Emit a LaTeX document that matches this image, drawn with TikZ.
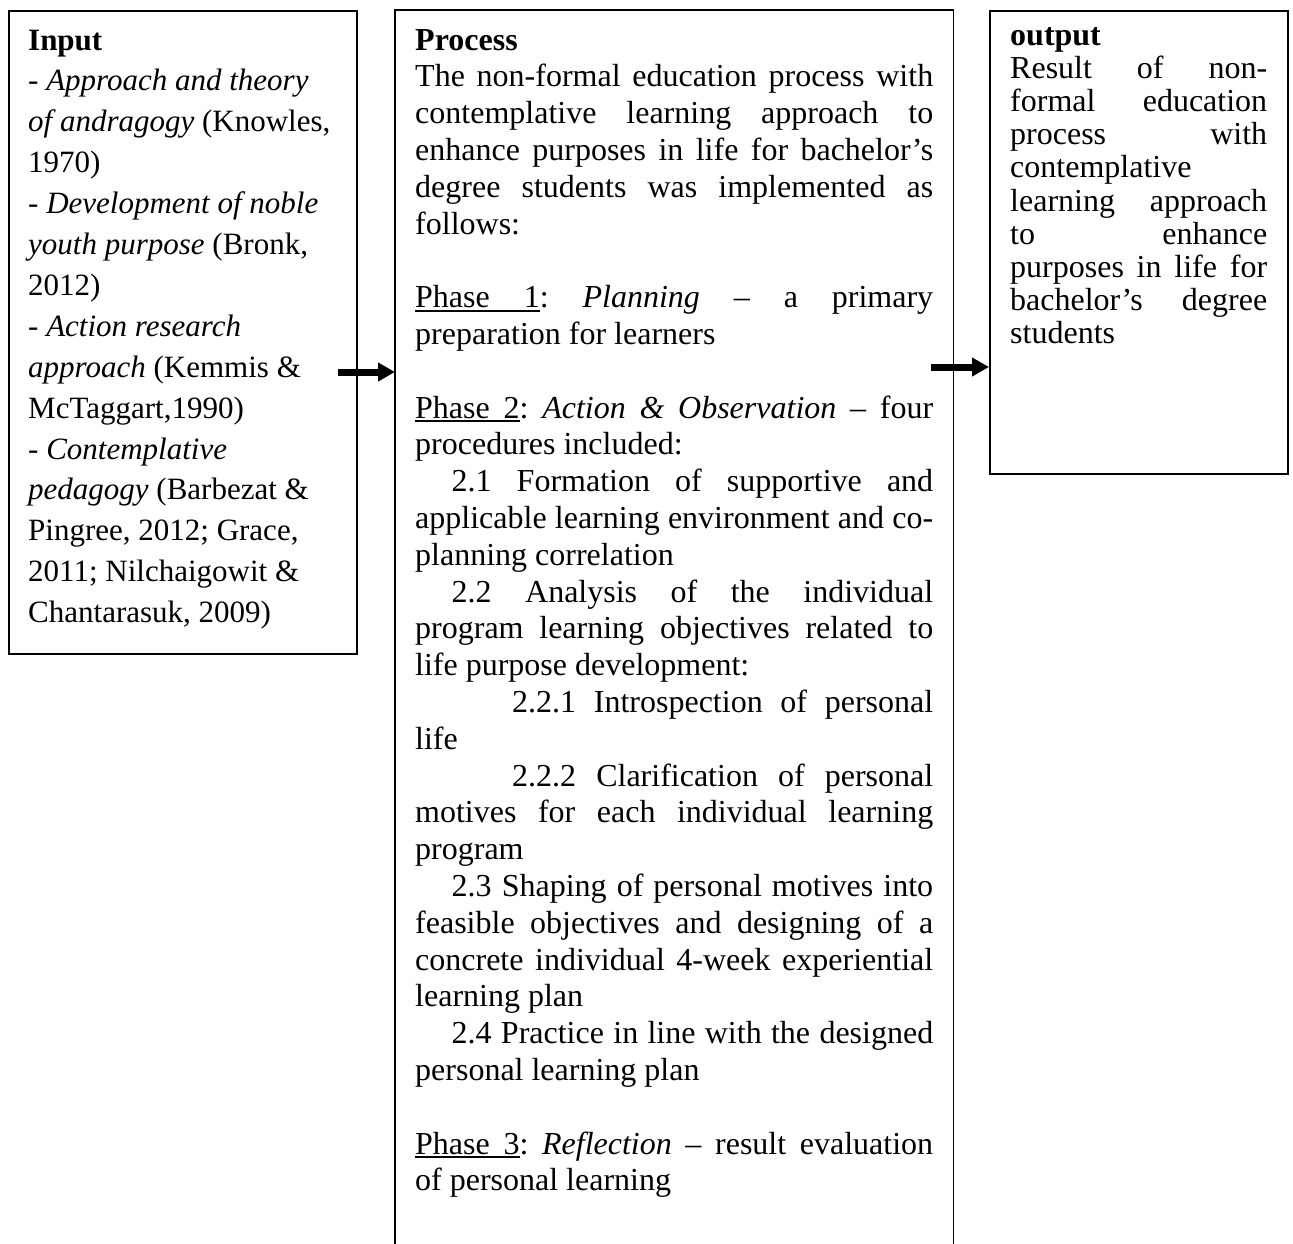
\documentclass[tikz,border=0pt]{standalone}
\usepackage{fontspec}
\setmainfont{Liberation Serif}
\usetikzlibrary{arrows.meta}
\frenchspacing
\newcommand{\Jl}[1]{\makebox[\linewidth][s]{#1}\par}
\newcommand{\Ll}[1]{#1\par}
\newcommand{\Bl}{\mbox{}\par}
\newcommand{\uw}[1]{\setbox0\hbox{#1}\rlap{\rule[-4pt]{\wd0}{1.6pt}}\box0}
\newcommand{\usp}{\leaders\hrule height -2.4pt depth 4pt\hskip\fontdimen2\font plus\fontdimen3\font minus\fontdimen4\font\relax}
\begin{document}
\begin{tikzpicture}[x=1pt,y=-1pt,
  frame/.style={draw=black, line width=1.6pt, inner sep=0pt, anchor=north west},
  hollow/.style={draw=none, inner sep=0pt, anchor=north west},
  txt/.style={inner sep=0pt, anchor=base west},
  flow/.style={line width=7pt, -{Triangle[length=17pt,width=18pt]}}]
\useasboundingbox[fill=white] (0,0) rectangle (1293,1243);

% boxes
\node[frame, minimum width=348pt, minimum height=643pt] (input) at (8,10) {};
\node[hollow, minimum width=558pt, minimum height=1240pt] (process) at (395,10) {};
\draw[line width=1.6pt] (process.south west) -- (process.north west) -- (process.north east) -- (process.south east);
\node[frame, minimum width=298pt, minimum height=463pt] (output) at (989,10) {};

% input text
\node[txt] (intext) at (28,50) {\begin{minipage}[t]{325pt}\fontsize{31}{40.9}\selectfont\parskip=0pt\frenchspacing
\Ll{\textbf{Input}}
\Ll{- \textit{Approach and theory}}
\Ll{\textit{of andragogy} (Knowles,}
\Ll{1970)}
\Ll{- \textit{Development of noble}}
\Ll{\textit{youth purpose} (Bronk,}
\Ll{2012)}
\Ll{- \textit{Action research}}
\Ll{\textit{approach} (Kemmis \&}
\Ll{McTaggart,1990)}
\Ll{- \textit{Contemplative}}
\Ll{\textit{pedagogy} (Barbezat \&}
\Ll{Pingree, 2012; Grace,}
\Ll{2011; Nilchaigowit \&}
\Ll{Chantarasuk, 2009)}
\end{minipage}};

% process text
\node[txt] (proctext) at (415,50) {\begin{minipage}[t]{518pt}\fontsize{32}{36.8}\selectfont\parskip=0pt\frenchspacing
\Ll{\textbf{Process}}
\Jl{The non-formal education process with}
\Jl{contemplative learning approach to}
\Jl{enhance purposes in life for bachelor’s}
\Jl{degree students was implemented as}
\Ll{follows:}
\Bl
\Jl{\uw{Phase}\usp\uw{1}: \textit{Planning} – a primary}
\Ll{preparation for learners}
\Bl
\Jl{\uw{Phase}\usp\uw{2}: \textit{Action \& Observation} – four}
\Ll{procedures included:}
\Jl{\hspace*{36.5pt}2.1 Formation of supportive and}
\Jl{applicable learning environment and co-}
\Ll{planning correlation}
\Jl{\hspace*{36.5pt}2.2 Analysis of the individual}
\Jl{program learning objectives related to}
\Ll{life purpose development:}
\Jl{\hspace*{97pt}2.2.1 Introspection of personal}
\Ll{life}
\Jl{\hspace*{97pt}2.2.2 Clarification of personal}
\Jl{motives for each individual learning}
\Ll{program}
\Jl{\hspace*{36.5pt}2.3 Shaping of personal motives into}
\Jl{feasible objectives and designing of a}
\Jl{concrete individual 4-week experiential}
\Ll{learning plan}
\Jl{\hspace*{36.5pt}2.4 Practice in line with the designed}
\Ll{personal learning plan}
\Bl
\Jl{\uw{Phase}\usp\uw{3}: \textit{Reflection} – result evaluation}
\Ll{of personal learning}
\end{minipage}};

% output text
\node[txt] (outtext) at (1010,45) {\begin{minipage}[t]{257pt}\fontsize{32}{33.2}\selectfont\parskip=0pt\frenchspacing
\Ll{\textbf{output}}
\Jl{Result of non-}
\Jl{formal education}
\Jl{process with}
\Ll{contemplative}
\Jl{learning approach}
\Jl{to enhance}
\Jl{purposes in life for}
\Jl{bachelor’s degree}
\Ll{students}
\end{minipage}};

% arrows
\coordinate (a1) at (338,372);
\coordinate (a2) at (931,367);
\draw[flow] (a1) -- (process.west |- a1);
\draw[flow] (a2) -- (output.west |- a2);
\end{tikzpicture}
\end{document}
